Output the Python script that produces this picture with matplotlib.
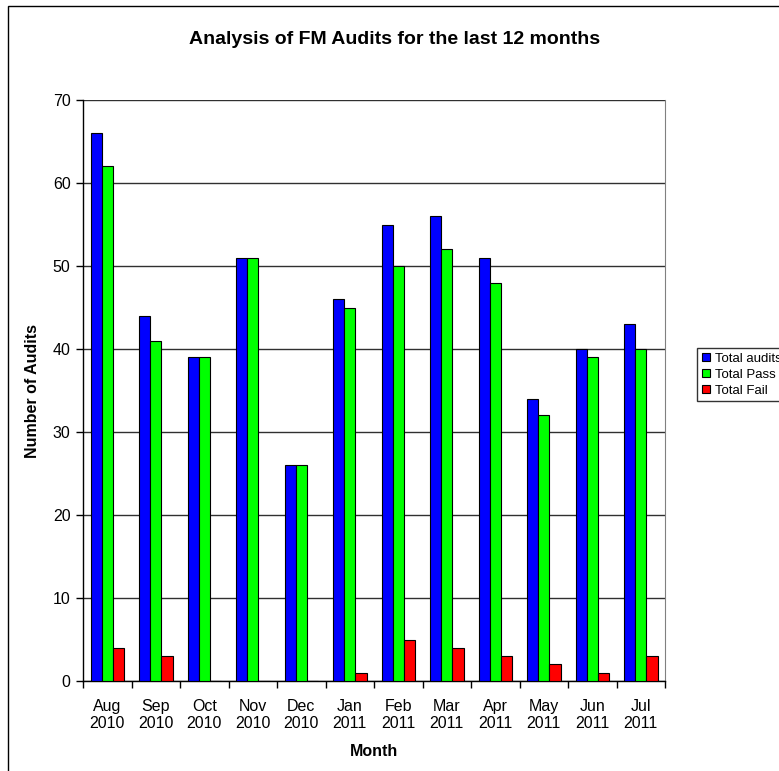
import numpy as np
import matplotlib.pyplot as plt
from matplotlib.patches import Rectangle

plt.rcParams['font.family'] = ['Liberation Sans', 'DejaVu Sans']

months = ['Aug\n2010', 'Sep\n2010', 'Oct\n2010', 'Nov\n2010', 'Dec\n2010', 'Jan\n2011',
          'Feb\n2011', 'Mar\n2011', 'Apr\n2011', 'May\n2011', 'Jun\n2011', 'Jul\n2011']
total_audits = [66, 44, 39, 51, 26, 46, 55, 56, 51, 34, 40, 43]
total_pass = [62, 41, 39, 51, 26, 45, 50, 52, 48, 32, 39, 40]
total_fail = [4, 3, 0, 0, 0, 1, 5, 4, 3, 2, 1, 3]

fig = plt.figure(figsize=(7.79, 7.71), dpi=100)
ax = fig.add_axes([0.1066, 0.1167, 0.7471, 0.7536])

# chart area border running off the right and bottom edges
fig.patches.append(Rectangle((8 / 779, -0.05), 1.2, (771 - 6) / 771 + 0.05,
                             transform=fig.transFigure, fill=False,
                             edgecolor='black', linewidth=1.0))

x = np.arange(len(months))
w = 0.23
ax.bar(x - w, total_audits, w, color='#0000ff', edgecolor='black', linewidth=0.8,
       label='Total audits', zorder=3)
ax.bar(x, total_pass, w, color='#00ff00', edgecolor='black', linewidth=0.8,
       label='Total Pass', zorder=3)
ax.bar(x + w, total_fail, w, color='#ff0000', edgecolor='black', linewidth=0.8,
       label='Total Fail', zorder=3)

ax.set_xlim(-0.5, len(months) - 0.5)
ax.set_ylim(0, 70)
ax.set_yticks(range(0, 71, 10))
ax.set_xticks(x)
ax.set_xticklabels(months, fontsize=11.5, linespacing=1.2)
ax.set_xticks(np.arange(-0.5, len(months)), minor=True)
ax.tick_params(axis='x', which='major', length=0, pad=13)
ax.tick_params(axis='x', which='minor', length=5, width=1, direction='out')
ax.tick_params(axis='y', length=5, width=1, direction='out', labelsize=11.5, pad=4)

ax.yaxis.grid(True, color='#303030', linewidth=1.0, zorder=0)
ax.spines['top'].set_visible(False)
ax.spines['right'].set_color('#808080')
ax.spines['left'].set_linewidth(1.0)
ax.spines['bottom'].set_linewidth(1.0)

fig.text(395 / 779, 1 - 40 / 771, 'Analysis of FM Audits for the last 12 months',
         fontsize=14, fontweight='bold', ha='center', va='center')
ax.set_ylabel('Number of Audits', fontsize=11.5, fontweight='bold', labelpad=9)
ax.set_xlabel('Month', fontsize=11.5, fontweight='bold', labelpad=9)

fig.legend(loc='upper left', bbox_to_anchor=(697 / 779, (771 - 348) / 771),
           fontsize=9.5, frameon=True, fancybox=False, edgecolor='black',
           handlelength=0.6, handleheight=0.6, handletextpad=0.4,
           labelspacing=0.3, borderpad=0.35, borderaxespad=0)

fig.savefig('out.png', dpi=100)
